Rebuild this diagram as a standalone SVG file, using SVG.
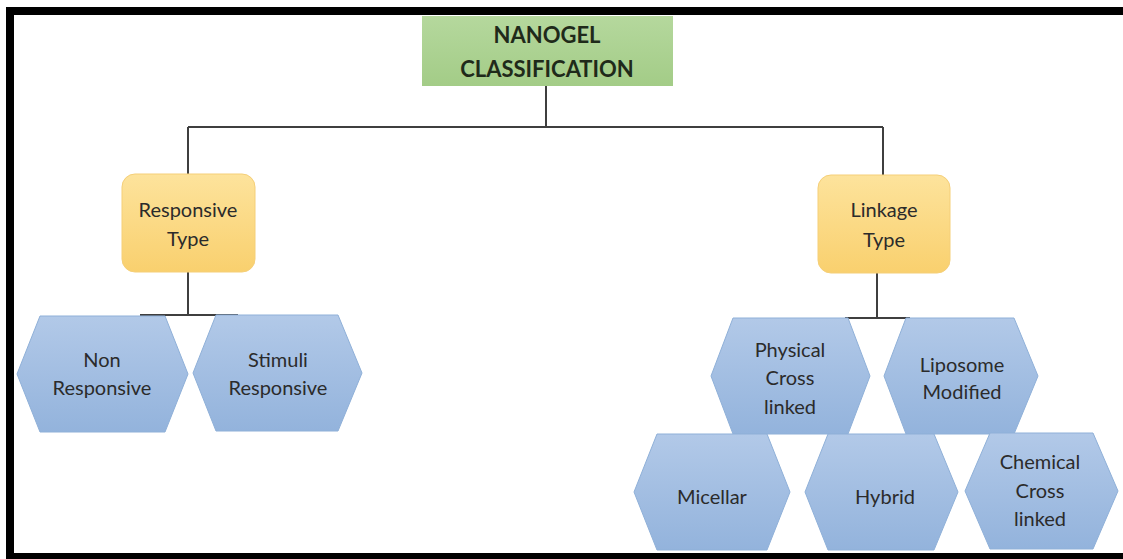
<svg xmlns="http://www.w3.org/2000/svg" width="1123" height="559" viewBox="0 0 1123 559">
<defs>
<linearGradient id="gGreen" x1="0" y1="0" x2="0" y2="1"><stop offset="0" stop-color="#b5d89d"/><stop offset="1" stop-color="#a3cc87"/></linearGradient>
<linearGradient id="gOrange" x1="0" y1="0" x2="0" y2="1"><stop offset="0" stop-color="#fde39c"/><stop offset="1" stop-color="#f9d06e"/></linearGradient>
<linearGradient id="gBlue" x1="0" y1="0" x2="0" y2="1"><stop offset="0" stop-color="#b2c9e8"/><stop offset="1" stop-color="#93b3dc"/></linearGradient>
<style>
.t{font-family:Lato,"Open Sans",sans-serif;font-size:20px;fill:#2b2b2b;text-anchor:middle}
.title{font-family:Lato,"Open Sans",sans-serif;font-size:22px;font-weight:bold;fill:#1f2a1a;text-anchor:middle}
.hex{fill:url(#gBlue);stroke:#8fb0d8;stroke-width:1}
.ob{fill:url(#gOrange);stroke:#f5cf78;stroke-width:1}
.con{stroke:#3f3f3f;stroke-width:2;fill:none}
</style>
</defs>
<rect x="0" y="0" width="1123" height="559" fill="#ffffff"/>
<g id="frame">
<rect x="6" y="7" width="1117" height="8" fill="#000"/>
<rect x="6" y="7" width="8" height="552" fill="#000"/>
<rect x="6" y="553" width="1117" height="6" fill="#000"/>
</g>
<g id="connectors">
<path class="con" d="M546 86V127M188 127H883M188 127V174M883 127V175"/>
<path class="con" d="M188 272V315M140 315H238"/>
<path class="con" d="M877 273V318M845 318H910"/>
</g>
<g id="nanogel">
<rect x="422" y="16" width="251" height="70" fill="url(#gGreen)"/>
<text class="title" x="547" y="43">NANOGEL</text>
<text class="title" x="547" y="77">CLASSIFICATION</text>
</g>
<g id="responsive-type">
<rect class="ob" x="122" y="174" width="133" height="98" rx="13"/>
<text class="t" x="188" y="217">Responsive</text>
<text class="t" x="188" y="246">Type</text>
</g>
<g id="linkage-type">
<rect class="ob" x="818" y="175" width="132" height="98" rx="13"/>
<text class="t" x="884" y="217">Linkage</text>
<text class="t" x="884" y="247">Type</text>
</g>
<g id="non-responsive">
<polygon class="hex" points="17,374 40,316 165,316 188,374 165,432 40,432"/>
<text class="t" x="102" y="367">Non</text>
<text class="t" x="102" y="395">Responsive</text>
</g>
<g id="stimuli-responsive">
<polygon class="hex" points="193,373 216,315 338,315 362,373 338,431 216,431"/>
<text class="t" x="278" y="367">Stimuli</text>
<text class="t" x="278" y="395">Responsive</text>
</g>
<g id="physical">
<polygon class="hex" points="711,376 733,318 848,318 870,376 848,434 733,434"/>
<text class="t" x="790" y="357">Physical</text>
<text class="t" x="790" y="385">Cross</text>
<text class="t" x="790" y="414">linked</text>
</g>
<g id="liposome">
<polygon class="hex" points="884,376 906,318 1014,318 1038,376 1014,434 906,434"/>
<text class="t" x="962" y="372">Liposome</text>
<text class="t" x="962" y="399">Modified</text>
</g>
<g id="micellar">
<polygon class="hex" points="634,492 657,434 767,434 790,492 767,550 657,550"/>
<text class="t" x="712" y="504">Micellar</text>
</g>
<g id="hybrid">
<polygon class="hex" points="805,492 828,434 934,434 958,492 934,550 828,550"/>
<text class="t" x="885" y="504">Hybrid</text>
</g>
<g id="chemical">
<polygon class="hex" points="965,491 990,433 1093,433 1118,491 1093,549 990,549"/>
<text class="t" x="1040" y="469">Chemical</text>
<text class="t" x="1040" y="498">Cross</text>
<text class="t" x="1040" y="526">linked</text>
</g>
</svg>
